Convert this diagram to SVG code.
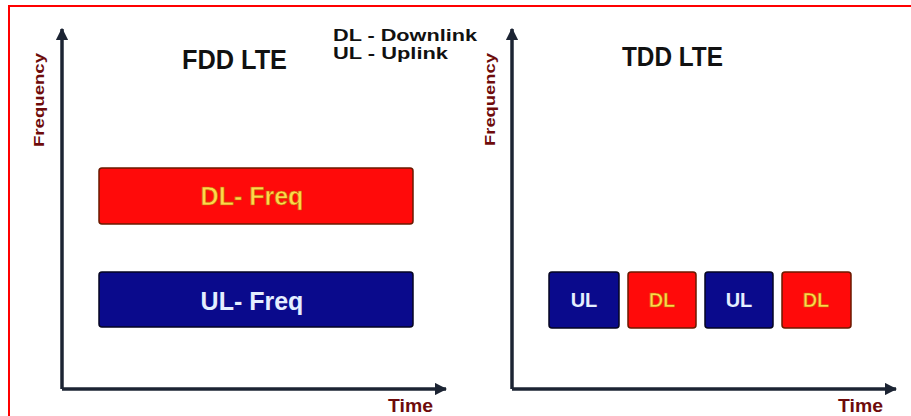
<svg xmlns="http://www.w3.org/2000/svg" width="911" height="416" viewBox="0 0 911 416">
<style>
.title{font-family:"Liberation Sans",Arial,sans-serif;font-weight:700;fill:#111;}
.axis{stroke:#1c2433;stroke-width:3.5;fill:none;}
.lbl{font-family:"Liberation Sans",Arial,sans-serif;font-weight:700;fill:#6e0b0b;}
.dl{fill:#ff0a0a;stroke:#6a1a00;stroke-width:1.5;}
.ul{fill:#0a0a8c;stroke:#050522;stroke-width:1.5;}
.dlt{font-family:"Liberation Sans",Arial,sans-serif;font-weight:700;fill:#ffd84a;stroke:#c06000;stroke-width:0.6;text-anchor:middle;}
.ult{font-family:"Liberation Sans",Arial,sans-serif;font-weight:700;fill:#e4eeff;text-anchor:middle;}
</style>
<defs>
<marker id="arr" viewBox="0 0 10 10" refX="9" refY="5" markerWidth="3.5" markerHeight="3.5" orient="auto" markerUnits="strokeWidth">
<path d="M0,0 L10,5 L0,10 z" fill="#1c2433"/>
</marker>
</defs>
<rect x="0" y="0" width="911" height="416" fill="#ffffff"/>
<path d="M9,416 V6 H911" fill="none" stroke="#ff0000" stroke-width="2"/>

<g id="connectors">
<path class="axis" d="M62,389 V29" marker-end="url(#arr)"/>
<path class="axis" d="M62,389 H446" marker-end="url(#arr)"/>
<path class="axis" d="M512,389 V29" marker-end="url(#arr)"/>
<path class="axis" d="M512,389 H896" marker-end="url(#arr)"/>
</g>

<g id="fdd-title"><text class="title" x="182" y="69" font-size="28" textLength="105" lengthAdjust="spacingAndGlyphs">FDD LTE</text></g>
<g id="tdd-title"><text class="title" x="622" y="66" font-size="28" textLength="101" lengthAdjust="spacingAndGlyphs">TDD LTE</text></g>
<g id="legend">
<text class="title" x="333" y="41" font-size="16" textLength="144" lengthAdjust="spacingAndGlyphs">DL - Downlink</text>
<text class="title" x="333" y="59" font-size="16" textLength="115" lengthAdjust="spacingAndGlyphs">UL - Uplink</text>
</g>

<g id="fdd-freq-label"><text class="lbl" font-size="15" transform="translate(44,147) rotate(-90)" textLength="94" lengthAdjust="spacingAndGlyphs">Frequency</text></g>
<g id="tdd-freq-label"><text class="lbl" font-size="15" transform="translate(495,146) rotate(-90)" textLength="93" lengthAdjust="spacingAndGlyphs">Frequency</text></g>
<g id="fdd-time-label"><text class="lbl" x="388" y="412" font-size="19" textLength="45" lengthAdjust="spacingAndGlyphs">Time</text></g>
<g id="tdd-time-label"><text class="lbl" x="838" y="412" font-size="19" textLength="45" lengthAdjust="spacingAndGlyphs">Time</text></g>

<g id="dl-freq">
<rect class="dl" x="99" y="168" width="314" height="56" rx="3"/>
<text class="dlt" x="252" y="205" font-size="25">DL- Freq</text>
</g>
<g id="ul-freq">
<rect class="ul" x="99" y="272" width="314" height="55" rx="3"/>
<text class="ult" x="252" y="310" font-size="25">UL- Freq</text>
</g>

<g id="tdd-ul1">
<rect class="ul" x="549" y="272" width="70" height="56" rx="3"/>
<text class="ult" x="584" y="307" font-size="20">UL</text>
</g>
<g id="tdd-dl1">
<rect class="dl" x="628" y="272" width="68" height="56" rx="3"/>
<text class="dlt" x="662" y="307" font-size="20">DL</text>
</g>
<g id="tdd-ul2">
<rect class="ul" x="705" y="272" width="68" height="56" rx="3"/>
<text class="ult" x="739" y="307" font-size="20">UL</text>
</g>
<g id="tdd-dl2">
<rect class="dl" x="782" y="272" width="69" height="56" rx="3"/>
<text class="dlt" x="816" y="307" font-size="20">DL</text>
</g>
</svg>
